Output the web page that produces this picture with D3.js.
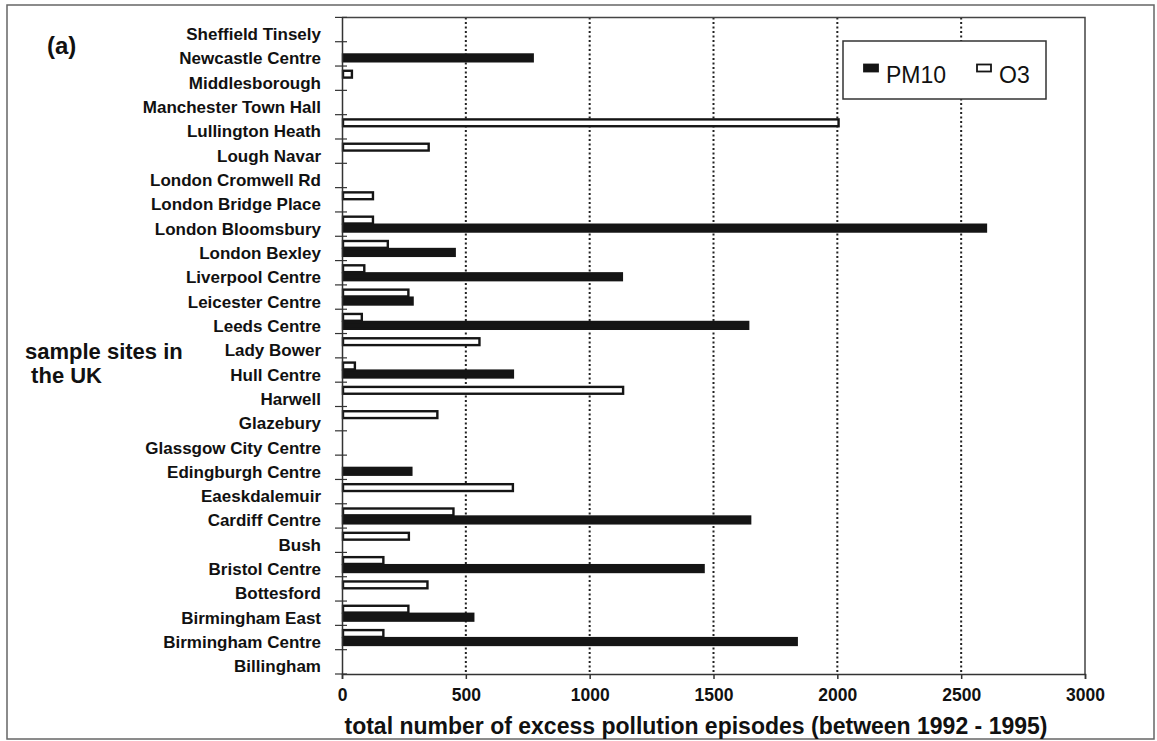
<!DOCTYPE html>
<html>
<head>
<meta charset="utf-8">
<script src="https://cdn.jsdelivr.net/npm/d3@7"></script>
<style>
  html, body { margin: 0; padding: 0; background: #fff; }
  svg { display: block; }
  text { font-family: Arial, "Liberation Sans", sans-serif; fill: #111; }
</style>
</head>
<body>
<svg id="chart" width="1157" height="741"></svg>
<script>
// ---- data (top to bottom as shown) ----
const sites = [
  "Sheffield Tinsely", "Newcastle Centre", "Middlesborough", "Manchester Town Hall",
  "Lullington Heath", "Lough Navar", "London Cromwell Rd", "London Bridge Place",
  "London Bloomsbury", "London Bexley", "Liverpool Centre", "Leicester Centre",
  "Leeds Centre", "Lady Bower", "Hull Centre", "Harwell", "Glazebury",
  "Glassgow City Centre", "Edingburgh Centre", "Eaeskdalemuir", "Cardiff Centre",
  "Bush", "Bristol Centre", "Bottesford", "Birmingham East", "Birmingham Centre",
  "Billingham"
];
const pm10 = [0, 770, 0, 0, 0, 0, 0, 0, 2600, 455, 1130, 285, 1640, 0, 690, 0, 0, 0, 280, 0, 1648, 0, 1460, 0, 530, 1836, 0];
const o3   = [0, 0, 40, 0, 2005, 350, 0, 125, 125, 185, 90, 268, 80, 555, 52, 1135, 385, 0, 0, 690, 450, 270, 167, 345, 268, 167, 0];
const seriesNames = ["O3", "PM10"];
const xTicks = [0, 500, 1000, 1500, 2000, 2500, 3000];
const xTitle = "total number of excess pollution episodes (between 1992 - 1995)";
const yTitle = ["sample sites in", " the UK"];
const panelLabel = "(a)";

// ---- layout ----
const svg = d3.select("#chart");
const plot = { left: 342, right: 1085, top: 17.4, bottom: 674 };

svg.append("rect").attr("x", 7).attr("y", 5).attr("width", 1147).attr("height", 734)
  .attr("fill", "none").attr("stroke", "#666").attr("stroke-width", 1.5);

const x = d3.scaleLinear().domain([0, 3000]).range([plot.left, plot.right]);
const y = d3.scaleBand().domain(sites).range([plot.top, plot.bottom])
  .paddingInner(0.34).paddingOuter(0.17);
const ySub = d3.scaleBand().domain(seriesNames).range([0, y.bandwidth()]);

// gridlines
svg.append("g").selectAll("line").data(xTicks.filter(t => t > 0 && t < 3000)).join("line")
  .attr("x1", d => x(d)).attr("x2", d => x(d))
  .attr("y1", plot.top).attr("y2", plot.bottom)
  .attr("stroke", "#222").attr("stroke-width", 2).attr("stroke-dasharray", "2,2.5");

// frame top & right
svg.append("path")
  .attr("d", `M${plot.left},${plot.top}H${plot.right}V${plot.bottom}`)
  .attr("fill", "none").attr("stroke", "#444").attr("stroke-width", 1.5);

// bars
const rows = sites.map((s, i) => ({ site: s, O3: o3[i], PM10: pm10[i] }));
const g = svg.append("g");
rows.forEach(r => {
  seriesNames.forEach(k => {
    if (r[k] <= 0) return;
    g.append("rect")
      .attr("x", x(0) + 1)
      .attr("y", y(r.site) + ySub(k) + 0.6)
      .attr("width", x(r[k]) - x(0) - 1)
      .attr("height", ySub.bandwidth() - 1.2)
      .attr("fill", k === "PM10" ? "#151515" : "#fff")
      .attr("stroke", "#151515").attr("stroke-width", 2.4);
  });
});

// x axis
const xAxis = svg.append("g").attr("transform", `translate(0,${plot.bottom})`)
  .call(d3.axisBottom(x).tickValues(xTicks).tickSize(5).tickPadding(10).tickFormat(d3.format("d")));
xAxis.select(".domain").attr("stroke", "#333").attr("stroke-width", 1.5);
xAxis.selectAll(".tick line").attr("stroke", "#333").attr("stroke-width", 1.5);
xAxis.selectAll(".tick text").attr("font-size", 17.5).attr("font-weight", "bold")
  .attr("font-family", "Arial, 'Liberation Sans', sans-serif").attr("fill", "#111");

// y axis
const yAxis = svg.append("g").attr("transform", `translate(${plot.left},0)`)
  .call(d3.axisLeft(y).tickSize(0).tickPadding(21));
yAxis.select(".domain").attr("stroke", "#333").attr("stroke-width", 1.5);
yAxis.selectAll(".tick text").attr("font-size", 17).attr("font-weight", "bold")
  .attr("font-family", "Arial, 'Liberation Sans', sans-serif").attr("fill", "#111")
  .attr("dy", "0.62em");
// boundary ticks
const step = y.step();
const bounds = d3.range(sites.length + 1).map(i => y(sites[0]) - y.paddingOuter() * step + i * step);
svg.append("g").selectAll("line").data(bounds).join("line")
  .attr("x1", plot.left - 7).attr("x2", plot.left + 5)
  .attr("y1", d => d).attr("y2", d => d)
  .attr("stroke", "#333").attr("stroke-width", 1.2);

// x title
svg.append("text").attr("x", 696).attr("y", 734)
  .attr("text-anchor", "middle").attr("font-size", 23).attr("font-weight", "bold")
  .text(xTitle);

// y title
svg.append("text").attr("x", 25).attr("y", 359).attr("font-size", 22).attr("font-weight", "bold")
  .selectAll("tspan").data(yTitle).join("tspan")
  .attr("x", 25).attr("dy", (d, i) => i === 0 ? 0 : 24)
  .attr("xml:space", "preserve").style("white-space", "pre")
  .text(d => d);

// panel label
svg.append("text").attr("x", 47).attr("y", 54).attr("font-size", 24).attr("font-weight", "bold")
  .text(panelLabel);

// legend
const leg = svg.append("g");
leg.append("rect").attr("x", 843).attr("y", 41).attr("width", 203).attr("height", 58)
  .attr("fill", "#fff").attr("stroke", "#333").attr("stroke-width", 1.5);
const legItems = [{ k: "PM10", x: 864 }, { k: "O3", x: 977 }];
legItems.forEach(it => {
  leg.append("rect").attr("x", it.x).attr("y", 64.5).attr("width", 14).attr("height", 7)
    .attr("fill", it.k === "PM10" ? "#151515" : "#fff").attr("stroke", "#151515").attr("stroke-width", 1.8);
  leg.append("text").attr("x", it.x + 22).attr("y", 82.5).attr("font-size", 23).text(it.k);
});
</script>
</body>
</html>
